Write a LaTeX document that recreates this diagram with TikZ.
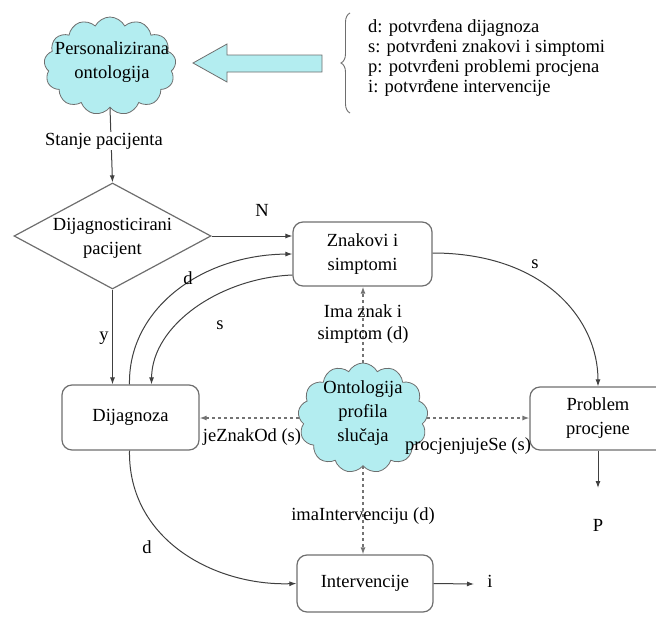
\documentclass[tikz,border=0pt]{standalone}
\usepackage{fontspec}
\setmainfont{Liberation Serif}
\usetikzlibrary{shapes.symbols,shapes.geometric,arrows.meta,decorations.pathreplacing}
\definecolor{cloudfill}{HTML}{B3EDF0}
\definecolor{linegray}{HTML}{6E6E6E}
\begin{document}
\begin{tikzpicture}[x=1pt,y=-1pt,
  font=\fontsize{18.5}{24}\selectfont,
  box/.style={draw=linegray, line width=1.2pt, rounded corners=10pt, inner sep=0pt, align=center},
  cloudshape/.style={cloud, cloud puffs=13, cloud puff arc=125, cloud ignores aspect, draw=linegray, line width=0.8pt, fill=cloudfill, inner sep=0pt},
  conn/.style={draw=black!75, line width=1pt, -{Latex[length=7pt,width=5pt]}},
  dotconn/.style={draw=black!55, line width=1.2pt, dash pattern=on 3pt off 3pt, -{Latex[length=7pt,width=5pt]}},
  lbl/.style={inner sep=1pt, align=center}]
\clip (0,0) rectangle (656,616);
\useasboundingbox (0,0) rectangle (656,616);

% clouds
\node[cloudshape, minimum width=132pt, minimum height=98pt] (pers) at (110,66) {};
\node[lbl] (perstext) at (112,62) {Personalizirana\\ontologija};
\node[cloudshape, minimum width=130pt, minimum height=110pt] (ont) at (363,418) {};
\node[lbl] (onttext) at (363,413) {Ontologija\\profila\\slučaja};

% big arrow
\draw[draw=linegray, line width=0.8pt, fill=cloudfill] (193,63) -- (227,44) -- (227,55) -- (322,55) -- (322,72) -- (227,72) -- (227,82) -- cycle;

% legend
\draw[draw=linegray, line width=0.9pt, decorate, decoration={brace, amplitude=9pt}] (350,113) -- (350,13);
\node[anchor=west, align=left, inner sep=0pt, font=\fontsize{18.5}{19.8}\selectfont] (legend) at (368,58)
  {d: potvrđena dijagnoza\\s: potvrđeni znakovi i simptomi\\p: potvrđeni problemi procjena\\i: potvrđene intervencije};

% diamond
\node[diamond, draw=linegray, line width=1.2pt, inner sep=0pt, minimum width=197pt, minimum height=106pt] (dia) at (112.5,236) {};
\node[lbl] (diatext) at (112.5,238) {Dijagnosticirani\\pacijent};

% boxes
\node[box, minimum width=139pt, minimum height=64pt] (znak) at (362.5,254) {Znakovi i\\simptomi};
\node[box, minimum width=137pt, minimum height=65pt] (dij) at (130.5,417.5) {Dijagnoza};
\node[box, minimum width=136pt, minimum height=63pt] (prob) at (598,418.5) {Problem\\procjene};
\node[box, minimum width=136pt, minimum height=57pt] (interv) at (365,583.5) {Intervencije};

% connectors
\draw[conn] (pers.south) -- (dia.north);
\node[lbl, fill=white] (stanje) at (104,141) {Stanje pacijenta};

\draw[conn] (dia.east) -- (dia.east -| znak.west);
\node[lbl] (lN) at (262,210) {N};

\draw[conn] (dia.south) -- (dia.south |- dij.north);
\node[lbl] (ly) at (104,338) {y};

\draw[conn] ([xshift=-1pt]dij.north) .. controls (128,310) and (200,255) .. (znak.west);
\node[lbl] (ld1) at (188,278) {d};

\draw[conn] ([yshift=-21pt]znak.west) .. controls (220,278) and (152,325) .. ([xshift=21pt]dij.north);
\node[lbl] (ls1) at (220,325) {s};

\draw[conn] ([yshift=1pt]znak.east) .. controls (545,253) and (598,320) .. (prob.north);
\node[lbl] (ls2) at (535,264) {s};

\draw[conn] ([xshift=-1pt]dij.south) .. controls (128,540) and (215,586) .. (interv.west);
\node[lbl] (ld2) at (147,547) {d};

\coordinate (pend) at (598,488);
\draw[conn] (prob.south) -- (pend);
\node[lbl] (lP) at (598,525) {P};

\coordinate (iend) at (474,584);
\draw[conn] (interv.east) -- (iend);
\node[lbl] (li) at (490,581) {i};

% dotted connectors
\draw[dotconn] (ont.north) -- (ont.north |- znak.south);
\draw[dotconn] (ont.west) -- (ont.west -| dij.east);
\draw[dotconn] (ont.east) -- (ont.east -| prob.west);
\draw[dotconn] (ont.south) -- (ont.south |- interv.north);

\node[lbl, font=\fontsize{18.5}{22}\selectfont] (limaz) at (363,324) {Ima znak i\\simptom (d)};
\node[lbl] (ljez) at (252,437) {jeZnakOd (s)};
\node[lbl] (lproc) at (468,446) {procjenjujeSe (s)};
\node[lbl] (limai) at (363,516) {imaIntervenciju (d)};
\end{tikzpicture}
\end{document}
